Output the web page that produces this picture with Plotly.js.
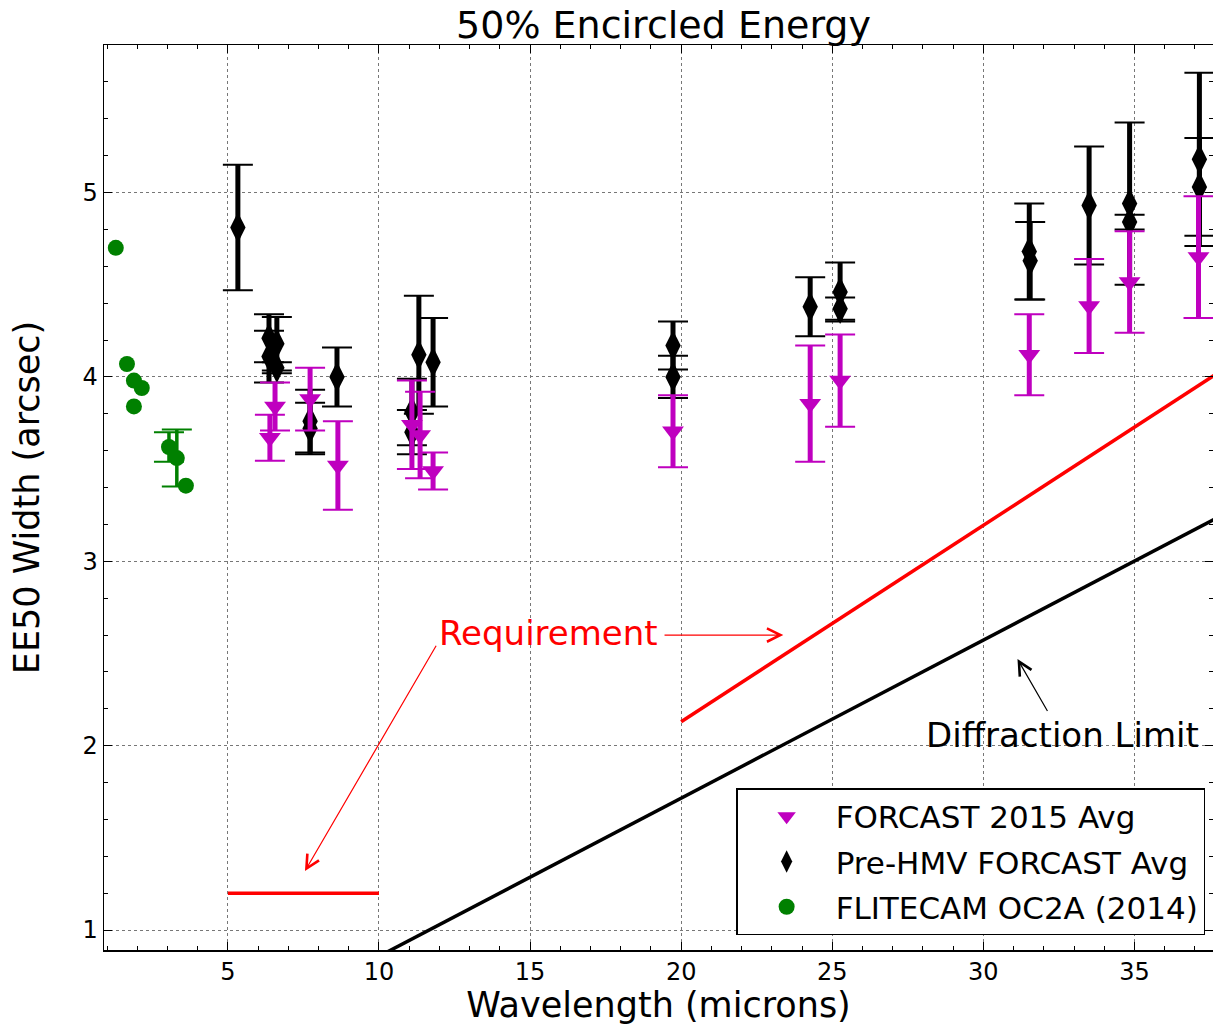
<!DOCTYPE html>
<html>
<head>
<meta charset="utf-8">
<script src="https://cdn.plot.ly/plotly-3.0.1.min.js"></script>
<style>
  html, body { margin: 0; padding: 0; background: #fff; }
  #chart { width: 1213px; height: 1025px; }
</style>
</head>
<body>
<div id="chart"></div>
<script>
// FLITECAM OC2A (2014) measurements (null = no error bar)
const flitecamWave = [1.29, 1.66, 1.89, 2.15, 1.89, 3.05, 3.31, 3.61];
const flitecamEE   = [4.70, 4.07, 3.98, 3.94, 3.84, 3.62, 3.56, 3.41];
const flitecamErr  = [null, null, null, null, null, 0.08, 0.155, null];

// Pre-HMV FORCAST averages
const preHmvWave = [5.33, 6.36, 6.62, 6.36, 6.62, 7.72, 7.72, 8.61, 11.09, 11.09, 11.32, 11.79,
                    19.73, 19.73, 24.27, 25.26, 25.26, 31.52, 31.55, 33.50, 34.84, 34.84, 37.15, 37.15];
const preHmvEE   = [4.81, 4.21, 4.18, 4.11, 4.05, 3.76, 3.72, 4.00, 3.81, 3.70, 4.12, 4.08,
                    4.17, 4.00, 4.38, 4.46, 4.37, 4.68, 4.63, 4.93, 4.94, 4.84, 5.18, 5.03];
const preHmvErr  = [0.34, 0.13, 0.145, 0.14, 0.03, 0.17, 0.14, 0.16, 0.18, 0.12, 0.32, 0.24,
                    0.13, 0.115, 0.16, 0.16, 0.06, 0.26, 0.21, 0.32, 0.44, 0.04, 0.47, 0.265];

// FORCAST 2015 averages
const forcastWave = [6.39, 6.56, 7.72, 8.64, 11.09, 11.36, 11.79, 19.73, 24.27, 25.26, 31.52, 33.50, 34.84, 37.12];
const forcastEE   = [3.67, 3.84, 3.88, 3.52, 3.74, 3.685, 3.49, 3.705, 3.855, 3.98, 4.12, 4.385, 4.515, 4.65];
const forcastErr  = [0.125, 0.13, 0.17, 0.24, 0.24, 0.235, 0.10, 0.195, 0.315, 0.25, 0.22, 0.255, 0.275, 0.33];

// Reference curves
const diffractionWave = [10, 40];
const diffractionEE   = [0.858, 3.43];
const reqShortWave = [5, 10];
const reqShortEE   = [1.2, 1.2];
const reqLongWave  = [20, 40];
const reqLongEE    = [2.13, 4.26];

const MAGENTA = '#bf00bf';
const GREEN = '#008000';
const FONT = 'DejaVu Sans, sans-serif';

// Plotly skips error bars whose value is NaN, so missing errors become NaN.
const errArray = arr => arr.map(v => (v === null ? NaN : v));

// Each series: a thick stem layer (no caps) under a thin-capped layer carrying the markers.
function series(name, x, y, err, color, symbol, size, stemWidth, rank) {
  const e = errArray(err);
  const stem = {
    x: x, y: y, type: 'scatter', mode: 'markers',
    marker: { size: 1, opacity: 0 },
    error_y: { type: 'data', array: e, visible: true, color: color, thickness: stemWidth, width: 0 },
    showlegend: false, hoverinfo: 'skip'
  };
  const main = {
    x: x, y: y, type: 'scatter', mode: 'markers', name: name,
    marker: { symbol: symbol, size: size, color: color, line: { width: 0 } },
    error_y: { type: 'data', array: e, visible: true, color: color, thickness: 2, width: 15 },
    legendrank: rank, legendgroup: name
  };
  return [stem, main];
}

const traces = [
  { x: diffractionWave, y: diffractionEE, type: 'scatter', mode: 'lines',
    line: { color: '#000', width: 3.5 }, showlegend: false, hoverinfo: 'skip' },
  { x: reqShortWave, y: reqShortEE, type: 'scatter', mode: 'lines',
    line: { color: '#ff0000', width: 3.5 }, showlegend: false, hoverinfo: 'skip' },
  { x: reqLongWave, y: reqLongEE, type: 'scatter', mode: 'lines',
    line: { color: '#ff0000', width: 3.5 }, showlegend: false, hoverinfo: 'skip' },
  ...series('FLITECAM OC2A (2014)', flitecamWave, flitecamEE, flitecamErr, GREEN, 'circle', 16, 3.5, 3),
  ...series('Pre-HMV FORCAST Avg', preHmvWave, preHmvEE, preHmvErr, '#000', 'diamond-tall', 22, 5, 2),
  ...series('FORCAST 2015 Avg', forcastWave, forcastEE, forcastErr, MAGENTA, 'triangle-down', 19, 5, 1)
];

const axisCommon = {
  showline: true, linecolor: '#000', linewidth: 1.5, mirror: 'allticks',
  ticks: 'inside', ticklen: 8, tickwidth: 1, tickcolor: '#000',
  showgrid: true, gridcolor: '#777', griddash: 'dot', gridwidth: 1,
  zeroline: false,
  tickfont: { family: FONT, size: 24, color: '#000' }
};

const layout = {
  width: 1213, height: 1025,
  margin: { l: 104, r: 0, t: 45, b: 75 },
  paper_bgcolor: '#fff', plot_bgcolor: '#fff',
  font: { family: FONT, color: '#000' },
  title: { text: '50% Encircled Energy', font: { family: FONT, size: 38, color: '#000' },
           x: 0.547, xanchor: 'center', y: 0.976, yanchor: 'middle', yref: 'container' },
  xaxis: Object.assign({}, axisCommon, {
    range: [0.9, 37.6], tickvals: [5, 10, 15, 20, 25, 30, 35],
    minor: { dtick: 1, tick0: 0, ticks: 'inside', ticklen: 4, tickcolor: '#000', showgrid: false },
    title: { text: 'Wavelength (microns)', font: { family: FONT, size: 35, color: '#000' }, standoff: 3 }
  }),
  yaxis: Object.assign({}, axisCommon, {
    range: [0.892, 5.80], tickvals: [1, 2, 3, 4, 5],
    minor: { dtick: 0.2, tick0: 0, ticks: 'inside', ticklen: 4, tickcolor: '#000', showgrid: false },
    title: { text: 'EE50 Width (arcsec)', font: { family: FONT, size: 35, color: '#000' }, standoff: 32 }
  }),
  legend: {
    x: 0.570, y: 0.179, xanchor: 'left', yanchor: 'top',
    bgcolor: '#fff', bordercolor: '#000', borderwidth: 1.5,
    font: { family: FONT, size: 31, color: '#000' },
    itemwidth: 88, traceorder: 'grouped', tracegroupgap: 2
  },
  annotations: [
    { x: 15.6, y: 2.61, xref: 'x', yref: 'y', text: 'Requirement', showarrow: false,
      font: { family: FONT, size: 34, color: '#ff0000' } },
    { x: 7.55, y: 1.32, ax: 11.92, ay: 2.55, xref: 'x', yref: 'y', axref: 'x', ayref: 'y',
      text: '', showarrow: true, arrowhead: 5, arrowsize: 2.2, arrowwidth: 1.2, arrowcolor: '#ff0000' },
    { x: 23.38, y: 2.60, ax: 19.40, ay: 2.60, xref: 'x', yref: 'y', axref: 'x', ayref: 'y',
      text: '', showarrow: true, arrowhead: 5, arrowsize: 2.2, arrowwidth: 1.2, arrowcolor: '#ff0000' },
    { x: 32.62, y: 2.06, xref: 'x', yref: 'y', text: 'Diffraction Limit', showarrow: false,
      font: { family: FONT, size: 34, color: '#000' } },
    { x: 31.13, y: 2.47, ax: 32.15, ay: 2.18, xref: 'x', yref: 'y', axref: 'x', ayref: 'y',
      text: '', showarrow: true, arrowhead: 5, arrowsize: 2.2, arrowwidth: 1.2, arrowcolor: '#000' }
  ]
};

Plotly.newPlot('chart', traces, layout, { staticPlot: true, displayModeBar: false });
</script>
</body>
</html>
